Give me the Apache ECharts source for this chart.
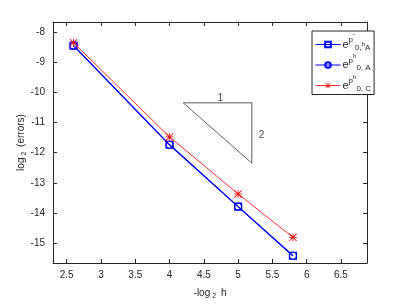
<!DOCTYPE html>
<html><head><meta charset="utf-8">
<script src="https://cdn.jsdelivr.net/npm/echarts@6/dist/echarts.min.js"></script>
<style>html,body{margin:0;padding:0;background:#fff}#c{width:407px;height:305px}</style>
</head><body><div id="c"></div>
<script>
const xVals = [2.6, 4, 5, 5.8];
const seriesSquare = [-8.45, -11.74, -13.79, -15.42];
const seriesCircle = [-8.45, -11.74, -13.79, -15.42];
const seriesStar = [-8.36, -11.48, -13.37, -14.81];
const triX = [4.2, 5.2, 5.2, 4.2];
const triY = [-10.35, -10.35, -12.35, -10.35];
const triLabels = [{x: 4.74, y: -10.2, t: '1'}, {x: 5.34, y: -11.44, t: '2'}];
const xTicks = [2.5, 3, 3.5, 4, 4.5, 5, 5.5, 6, 6.5];
const yTicks = [-15, -14, -13, -12, -11, -10, -9, -8];
const names = ['sq', 'ci', 'st'];

const font = 'Liberation Sans, Arial, sans-serif';
const tc = '#262626';
const pair = (xs, ys) => xs.map((x, i) => [x, ys[i]]);
const starPath = 'path://M0 4.5H10V5.5H0Z M4.5 0H5.5V10H4.5Z M0.7 0L10 9.3L9.3 10L0 0.7Z M9.3 0L10 0.7L0.7 10L0 9.3Z';

const axisCommon = {
  axisLine: {show: true, onZero: false, lineStyle: {color: tc, width: 1}},
  axisTick: {show: true, inside: true, length: 4, lineStyle: {color: tc}},
  splitLine: {show: false},
};
const xMin = 2.3, xMax = 6.88, yMin = -15.66, yMax = -7.67;

const rich = {
  e: {fontSize: 11, color: tc, fontFamily: font},
  sp: {fontSize: 8, color: tc, fontFamily: font, padding: [0, 0, 9, 0]},
  ss: {fontSize: 6, color: tc, fontFamily: font, padding: [0, 0, 17, 0]},
  sb: {fontSize: 8, color: tc, fontFamily: font, padding: [6, 0, 0, 0]},
  sh: {fontSize: 6, color: tc, fontFamily: font, padding: [0, 0, 0, 0]}
};
const legendText = {
  sq: '{e|e}{sp|p}{ss|\u02c6}{sb|0,}{sh|h}{sb|A}',
  ci: '{e|e}{sp|p}{ss|h}{sb|0, A}',
  st: '{e|e}{sp|p}{ss|h}{sb|0, C}'
};

const chart = echarts.init(document.getElementById('c'));
chart.setOption({
  animation: false,
  backgroundColor: '#fff',
  grid: {left: 53, right: 40, top: 22, bottom: 37},
  xAxis: [
    Object.assign({}, axisCommon, {
      type: 'value', min: xMin, max: xMax, position: 'bottom',
      axisTick: Object.assign({}, axisCommon.axisTick, {customValues: xTicks}),
      axisLabel: {customValues: xTicks, color: tc, fontSize: 10, fontFamily: font, margin: 7},
      name: '{a|-log}{s|2}{a| h}', nameLocation: 'middle', nameGap: 23,
      nameTextStyle: {rich: {a: {fontSize: 10, color: tc, fontFamily: font}, s: {fontSize: 7, color: tc, fontFamily: font, padding: [7, 2, 0, 2]}}}
    }),
    Object.assign({}, axisCommon, {
      type: 'value', min: xMin, max: xMax, position: 'top',
      axisTick: Object.assign({}, axisCommon.axisTick, {customValues: xTicks}),
      axisLabel: {show: false}
    })
  ],
  yAxis: [
    Object.assign({}, axisCommon, {
      type: 'value', min: yMin, max: yMax, position: 'left',
      axisTick: Object.assign({}, axisCommon.axisTick, {customValues: yTicks}),
      axisLabel: {customValues: yTicks, color: tc, fontSize: 10, fontFamily: font, margin: 8},
      name: '{a|log}{s|2}{a| (errors)}', nameLocation: 'middle', nameGap: 25, nameRotate: 90,
      nameMoveOverlap: false,
      nameTextStyle: {rich: {a: {fontSize: 10, color: tc, fontFamily: font}, s: {fontSize: 7, color: tc, fontFamily: font, padding: [7, 2, 0, 2]}}}
    }),
    Object.assign({}, axisCommon, {
      type: 'value', min: yMin, max: yMax, position: 'right',
      axisTick: Object.assign({}, axisCommon.axisTick, {customValues: yTicks}),
      axisLabel: {show: false}
    })
  ],
  legend: {
    data: names, orient: 'vertical', left: 312, top: 31, width: 47,
    padding: [2, 3, 2, 3], itemGap: 2, itemWidth: 25, itemHeight: 7,
    backgroundColor: '#fff', borderColor: '#262626', borderWidth: 1, borderRadius: 0,
    lineStyle: {width: 1, color: 'inherit'},
    formatter: n => legendText[n],
    textStyle: {rich: rich, padding: [0, 0, 0, -3]}
  },
  series: [
    {name: 'sq', type: 'line', data: pair(xVals, seriesSquare), color: '#0000ff',
     symbol: 'rect', symbolSize: 7, lineStyle: {color: '#0000ff', width: 1.1},
     itemStyle: {color: 'rgba(255,255,255,0)', borderColor: '#0000ff', borderWidth: 1.2}, z: 3},
    {name: 'ci', type: 'line', data: pair(xVals, seriesCircle), color: '#0000ff',
     symbol: 'circle', symbolSize: 7, lineStyle: {color: '#0000ff', width: 1.1},
     itemStyle: {color: 'rgba(255,255,255,0)', borderColor: '#0000ff', borderWidth: 1.2}, z: 3},
    {name: 'st', type: 'line', data: pair(xVals, seriesStar), color: '#ff0000',
     symbol: starPath, symbolSize: 8, lineStyle: {color: '#ff3030', width: 1},
     itemStyle: {color: '#ff0000'}, z: 4},
    {name: 'tri', type: 'line', data: pair(triX, triY), symbol: 'none', silent: true,
     lineStyle: {color: '#333', width: 0.8}, z: 2},
    {name: 'triLab', type: 'scatter', symbolSize: 0, silent: true,
     data: triLabels.map(d => ({value: [d.x, d.y], label: {show: true, formatter: d.t, position: 'inside', color: '#111', fontSize: 10, fontFamily: font}}))}
  ]
});
</script></body></html>
